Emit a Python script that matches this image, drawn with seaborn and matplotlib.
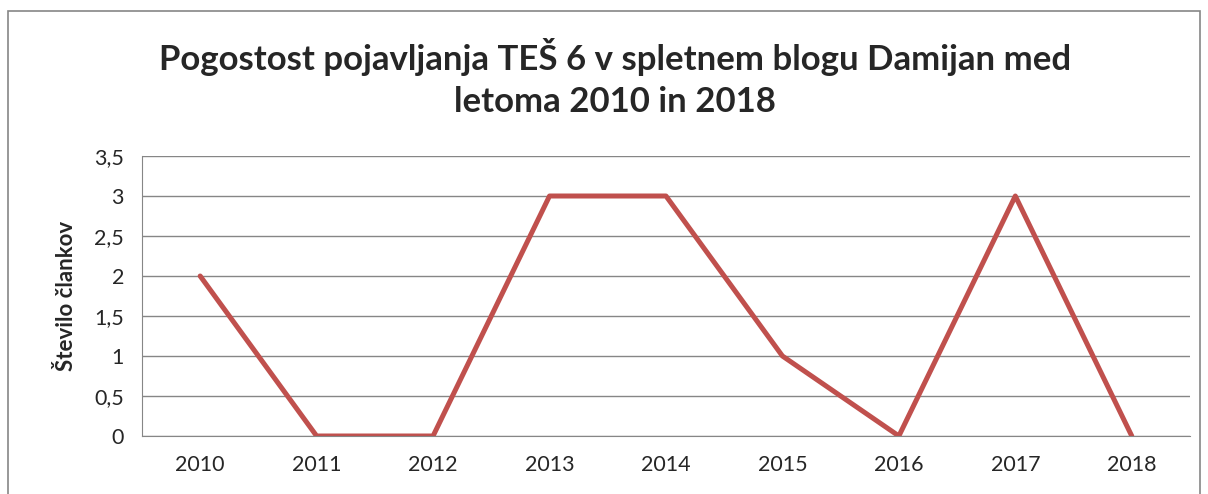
import numpy as np
import pandas as pd
import matplotlib
matplotlib.use('Agg')
import matplotlib.pyplot as plt
import seaborn as sns
from matplotlib.patches import Rectangle

years = ['2010', '2011', '2012', '2013', '2014', '2015', '2016', '2017', '2018']
counts = [2, 0, 0, 3, 3, 1, 0, 3, 0]
y_ticks = [0, 0.5, 1, 1.5, 2, 2.5, 3, 3.5]
y_tick_labels = ['0', '0,5', '1', '1,5', '2', '2,5', '3', '3,5']

df = pd.DataFrame({'pos': np.arange(len(years)), 'count': counts})

sns.set_style('white')
plt.rcParams['font.family'] = ['Lato', 'DejaVu Sans']

fig = plt.figure(figsize=(12.08, 4.94), dpi=100)
ax = fig.add_axes([0.1175, 0.1174, 0.8676, 0.5668])

# outer chart border
fig.patches.append(Rectangle((8 / 1208, -0.1), 1192 / 1208, 1.1 - 11 / 494,
                             transform=fig.transFigure, fill=False,
                             edgecolor='#868686', linewidth=1.2, clip_on=False))

sns.lineplot(data=df, x='pos', y='count', ax=ax, color='#C0504D', linewidth=3.6)

ax.set_xlim(-0.5, len(years) - 0.5)
ax.set_ylim(0, 3.5)
ax.set_yticks(y_ticks)
ax.set_yticklabels(y_tick_labels)
ax.yaxis.grid(True, color='#868686', linewidth=1)
ax.set_axisbelow(True)

ax.set_xticks(np.arange(len(years)))
ax.set_xticklabels(years)
ax.set_xticks(np.arange(len(years) + 1) - 0.5, minor=True)
ax.tick_params(axis='x', which='major', length=0, pad=14, labelsize=15.5)
ax.tick_params(axis='x', which='minor', length=7, color='#868686', width=1, direction='out')
ax.tick_params(axis='y', length=9, color='#868686', width=1, direction='out', pad=4, labelsize=15.5)

for side in ['top', 'right']:
    ax.spines[side].set_visible(False)
ax.spines['left'].set_color('#868686')
ax.spines['bottom'].set_color('#868686')

ax.set_xlabel('')
ax.set_ylabel('Število člankov', fontsize=16, fontweight='bold', labelpad=12)

fig.text(0.509, 0.842, 'Pogostost pojavljanja TEŠ 6 v spletnem blogu Damijan med\nletoma 2010 in 2018',
         ha='center', va='center', fontsize=25, fontweight='bold', linespacing=1.4)

fig.savefig('out.png', dpi=100)
